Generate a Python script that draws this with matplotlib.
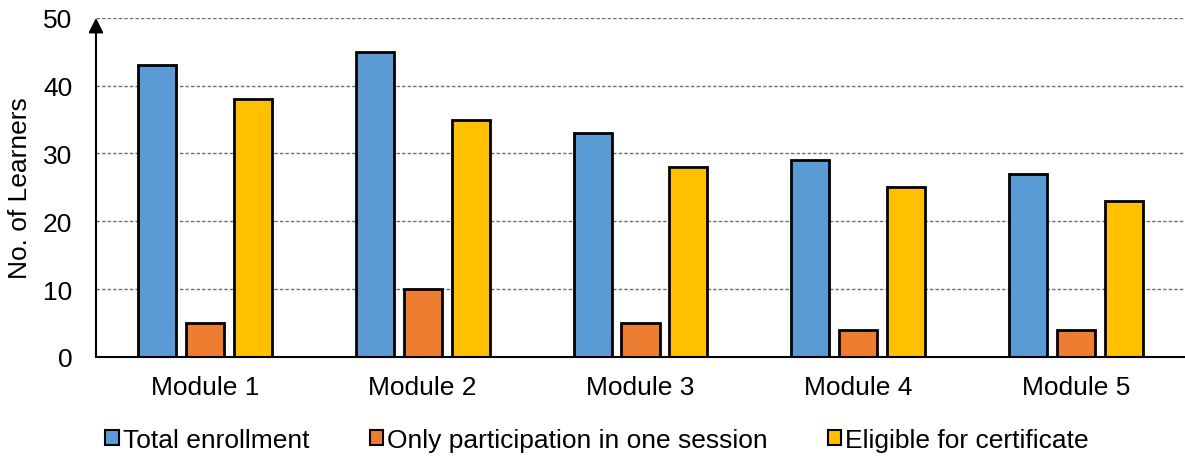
import numpy as np
import matplotlib.pyplot as plt
from matplotlib.patches import Patch

plt.rcParams['font.family'] = ['Liberation Sans', 'DejaVu Sans']

modules = ['Module 1', 'Module 2', 'Module 3', 'Module 4', 'Module 5']
total_enrollment = [43, 45, 33, 29, 27]
one_session = [5, 10, 5, 4, 4]
eligible = [38, 35, 28, 25, 23]

series = [
    ('Total enrollment', total_enrollment, '#5B9BD5'),
    ('Only participation in one session', one_session, '#ED7D31'),
    ('Eligible for certificate', eligible, '#FFC000'),
]

fig = plt.figure(figsize=(11.85, 4.6), dpi=100)
ax = fig.add_axes([0.081, 0.222, 0.919, 0.737])

x = np.arange(len(modules))
width = 0.175
step = 0.22
for i, (name, vals, col) in enumerate(series):
    ax.bar(x + (i - 1) * step, vals, width, color=col, edgecolor='black',
           linewidth=2, zorder=3, label=name)

ax.set_xlim(-0.5, 4.5)
ax.set_ylim(0, 50)
ax.set_yticks(range(0, 51, 10))
ax.set_xticks(x)
ax.set_xticklabels(modules)
ax.tick_params(axis='both', length=0, labelsize=19)
ax.tick_params(axis='y', pad=17)
ax.tick_params(axis='x', pad=13)
ax.grid(axis='y', color='#707070', linestyle=(0, (2.5, 1.5)), linewidth=1, zorder=0)
ax.set_ylabel('No. of Learners', fontsize=19, labelpad=8)

for s in ['top', 'right', 'left']:
    ax.spines[s].set_visible(False)
ax.spines['bottom'].set_linewidth(1.5)
ax.spines['bottom'].set_zorder(4)

# y axis drawn as an arrow
ax.annotate('', xy=(0, 1.0), xytext=(0, 0), xycoords='axes fraction',
            arrowprops=dict(arrowstyle='-|>', color='black', lw=1.5,
                            mutation_scale=22, shrinkA=0, shrinkB=0),
            zorder=5, annotation_clip=False)

handles = [Patch(facecolor=c, edgecolor='black', linewidth=1.5, label=n)
           for n, _, c in series]
fig.legend(handles=handles, loc='center', bbox_to_anchor=(0.504, 0.042),
           ncol=3, frameon=False, fontsize=19, handlelength=0.5,
           handleheight=0.5, handletextpad=0.15, columnspacing=2.3)

fig.savefig('out.png', dpi=100)
